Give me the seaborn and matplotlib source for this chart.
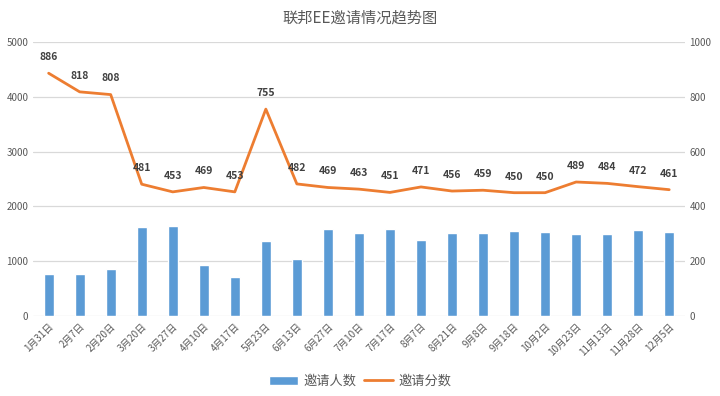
import matplotlib
matplotlib.use("Agg")
import matplotlib.pyplot as plt
import seaborn as sns
import pandas as pd

dates = ["1月31日", "2月7日", "2月20日", "3月20日", "3月27日", "4月10日", "4月17日",
         "5月23日", "6月13日", "6月27日", "7月10日", "7月17日", "8月7日", "8月21日",
         "9月8日", "9月18日", "10月2日", "10月23日", "11月13日", "11月28日", "12月5日"]
invite_count = [770, 770, 850, 1620, 1640, 925, 710, 1365, 1045, 1580, 1515,
                1580, 1395, 1515, 1515, 1545, 1527, 1503, 1503, 1564, 1527]
invite_score = [886, 818, 808, 481, 453, 469, 453, 755, 482, 469, 463,
                451, 471, 456, 459, 450, 450, 489, 484, 472, 461]

sns.set_style("white")
plt.rcParams['font.family'] = ['Noto Sans CJK SC', 'DejaVu Sans']

df = pd.DataFrame({"date": dates, "count": invite_count, "score": invite_score})
df["pos"] = range(len(df))

bar_color = "#5B9BD5"
line_color = "#ED7D31"
text_gray = "#595959"

fig = plt.figure(figsize=(7.2, 3.96), dpi=100)
ax = fig.add_axes([0.046, 0.202, 0.905, 0.692])
sns.barplot(data=df, x="date", y="count", color=bar_color, width=0.33,
            saturation=1, ax=ax, label="邀请人数")
if ax.get_legend() is not None:
    ax.get_legend().remove()
ax.set_ylim(0, 5000)
ax.set_yticks(range(0, 5001, 1000))
ax.set_xlim(-0.5, len(df) - 0.5)
ax.grid(axis="y", color="#D9D9D9", lw=0.9)
ax.set_axisbelow(True)
for s in ax.spines.values():
    s.set_visible(False)
ax.set_xlabel("")
ax.set_ylabel("")
ax.tick_params(axis="both", length=0, labelsize=7, colors=text_gray)
plt.setp(ax.get_xticklabels(), rotation=45, ha="right", rotation_mode="anchor")

ax2 = ax.twinx()
sns.lineplot(data=df, x="pos", y="score", color=line_color, lw=2, ax=ax2,
             label="邀请分数", legend=False)
ax2.set_ylim(0, 1000)
ax2.set_yticks(range(0, 1001, 200))
for s in ax2.spines.values():
    s.set_visible(False)
ax2.set_ylabel("")
ax2.set_xlabel("")
ax2.tick_params(axis="y", length=0, labelsize=7, colors=text_gray)
for x, v in zip(df["pos"], df["score"]):
    ax2.annotate(str(v), (x, v), xytext=(0, 8), textcoords="offset points",
                 ha="center", va="bottom", fontsize=7.5, fontweight="bold", color="#404040")

fig.suptitle("联邦EE邀请情况趋势图", y=0.975, fontsize=11, color=text_gray)

h1, l1 = ax.get_legend_handles_labels()
h2, l2 = ax2.get_legend_handles_labels()
leg = fig.legend(h1 + h2, l1 + l2, loc="lower center", bbox_to_anchor=(0.5, -0.01),
                 ncol=2, frameon=False, fontsize=9.5, handlelength=2.2,
                 columnspacing=0.6, handletextpad=0.4)
for t in leg.get_texts():
    t.set_color(text_gray)

fig.savefig("out.png", dpi=100)
